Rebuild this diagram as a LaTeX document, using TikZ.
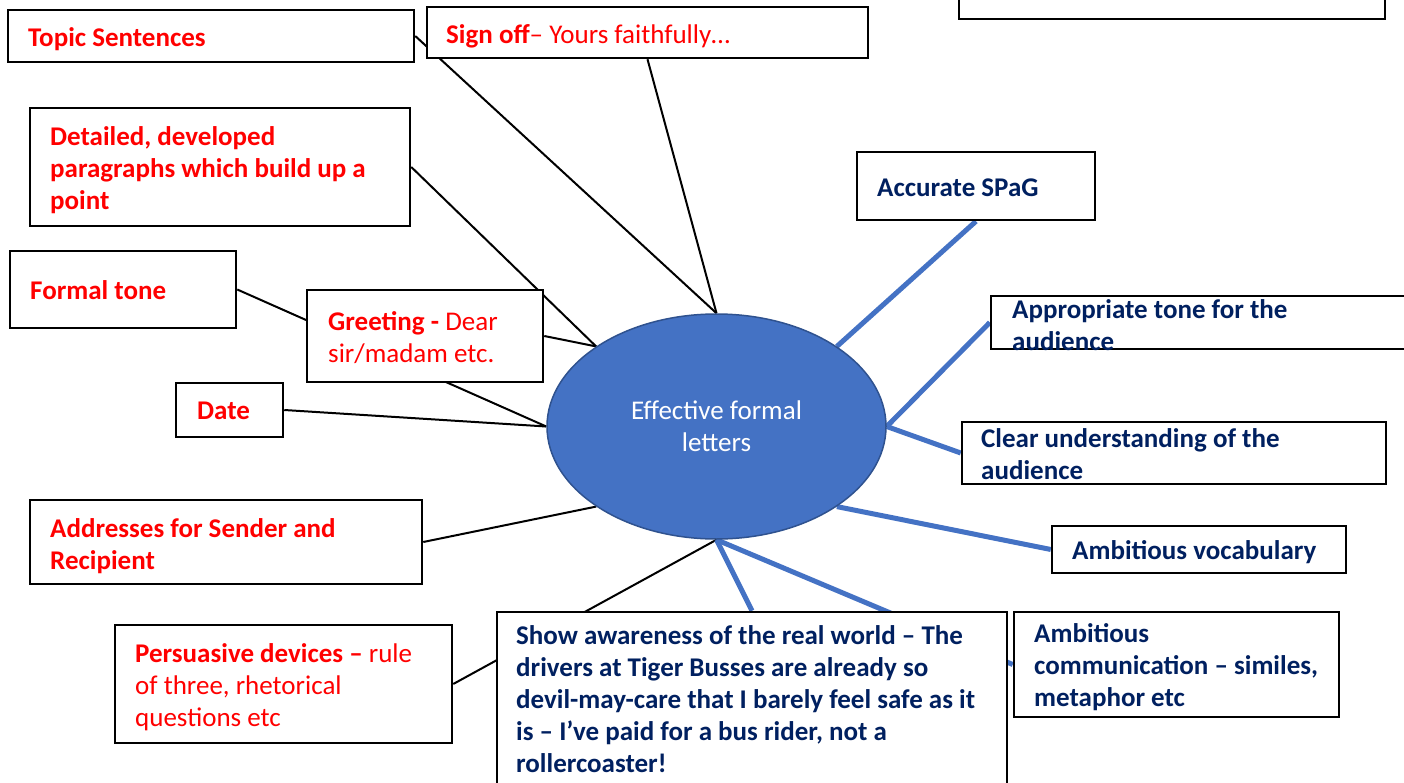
\documentclass[tikz,border=0pt]{standalone}
\usepackage{fontspec}
\setmainfont{Carlito}
\usetikzlibrary{shapes.geometric,backgrounds}
\definecolor{labred}{HTML}{FF0000}
\definecolor{navy}{HTML}{002060}
\definecolor{hubblue}{HTML}{4472C4}
\definecolor{hubedge}{HTML}{2F528F}
\newcommand\firstline{\rule{0pt}{24pt}}
\begin{document}
\begin{tikzpicture}[x=1pt,y=-1pt,
  box/.style={draw=black, fill=white, line width=2.5pt, rectangle, inner sep=0pt},
  hub/.style={ellipse, fill=hubblue, draw=hubedge, line width=1.5pt, inner sep=0pt,
    text=white, align=center, font=\fontsize{27}{32}\selectfont},
  txt/.style={anchor=north west, inner sep=0pt, align=left,
    font=\fontsize{27}{32}\selectfont, execute at begin node=\firstline},
  redtxt/.style={txt, text=labred},
  navytxt/.style={txt, text=navy, font=\fontsize{27}{32}\selectfont\bfseries},
  thinlink/.style={draw=black, line width=2pt},
  bluelink/.style={draw=hubblue, line width=5pt},
]
\useasboundingbox (0,0) rectangle (1404,783);

% central topic
\node[hub, minimum width=339pt, minimum height=225pt] (hub) at (716.5,426.5)
  {Effective formal\\letters};

% boxes
\node[box, minimum width=406pt, minimum height=52pt]  (topic)    at (211,36) {};
\node[box, minimum width=441pt, minimum height=51pt]  (signoff)  at (647.5,32.5) {};
\node[box, minimum width=426pt, minimum height=59pt]  (notes)    at (1172,-10.5) {};
\node[box, minimum width=380pt, minimum height=118pt] (detailed) at (220,167) {};
\node[box, minimum width=226pt, minimum height=77pt]  (formal)   at (123,289.5) {};
\node[box, minimum width=236pt, minimum height=92pt]  (greeting) at (425,336) {};
\node[box, minimum width=107pt, minimum height=54pt]  (date)     at (229.5,410) {};
\node[box, minimum width=392pt, minimum height=84pt]  (address)  at (226,542) {};
\node[box, minimum width=337pt, minimum height=118pt] (persuade) at (283.5,684) {};
\node[box, minimum width=510pt, minimum height=188pt] (aware)    at (752,706) {};
\node[box, minimum width=325pt, minimum height=105pt] (comm)     at (1176.5,664.5) {};
\node[box, minimum width=294pt, minimum height=47pt]  (vocab)    at (1199,549.5) {};
\node[box, minimum width=424pt, minimum height=62pt]  (clear)    at (1174,453) {};
\node[box, minimum width=439pt, minimum height=53pt]  (tone)     at (1210.5,322.5) {};
\node[box, minimum width=238pt, minimum height=68pt]  (spag)     at (976,186) {};

% box texts
\node[redtxt] (topic-t) at (28,22) {\textbf{Topic Sentences}};
\node[redtxt] (signoff-t) at (446,19) {\textbf{Sign off}– Yours faithfully…};
\node[redtxt] (detailed-t) at (50,126)
  {\textbf{Detailed, developed}\\\textbf{paragraphs which build up a}\\\textbf{point}};
\node[redtxt] (formal-t) at (30,275) {\textbf{Formal tone}};
\node[redtxt] (greeting-t) at (328,311) {\textbf{Greeting -} Dear\\sir/madam etc.};
\node[redtxt] (date-t) at (197,395) {\textbf{Date}};
\node[redtxt] (address-t) at (50,518)
  {\textbf{Addresses for Sender and}\\\textbf{Recipient}};
\node[redtxt] (persuade-t) at (135,643)
  {\textbf{Persuasive devices –} rule\\of three, rhetorical\\questions etc};
\node[navytxt] (aware-t) at (516,625)
  {Show awareness of the real world – The\\drivers at Tiger Busses are already so\\devil-may-care that I barely feel safe as it\\is – I’ve paid for a bus rider, not a\\rollercoaster!};
\node[navytxt] (comm-t) at (1034,623)
  {Ambitious\\communication – similes,\\metaphor etc};
\node[navytxt] (vocab-t) at (1072,535) {Ambitious vocabulary};
\node[navytxt] (clear-t) at (981,428) {Clear understanding of the\\audience};
\node[navytxt] (tone-t) at (1012,299) {Appropriate tone for the\\audience};
\node[navytxt] (spag-t) at (877,172) {Accurate SPaG};

% connectors, kept behind the boxes
\begin{pgfonlayer}{background}
  \draw[thinlink] (topic.east)    -- (hub.north);
  \draw[thinlink] (signoff.south) -- (hub.north);
  \draw[thinlink] (detailed.east) -- (hub.north west);
  \draw[thinlink] (greeting.east) -- (hub.north west);
  \draw[thinlink] (formal.east)   -- (hub.west);
  \draw[thinlink] (date.east)     -- (hub.west);
  \draw[thinlink] (address.east)  -- (hub.south west);
  \draw[thinlink] (persuade.east) -- (hub.south);
  \draw[bluelink] (spag.south)    -- (hub.north east);
  \draw[bluelink] (tone.west)     -- (hub.east);
  \draw[bluelink] (clear.west)    -- (hub.east);
  \draw[bluelink] (vocab.west)    -- (hub.south east);
  \draw[bluelink] (aware.north)   -- (hub.south);
  \draw[bluelink] (comm.west)     -- (hub.south);
\end{pgfonlayer}
\end{tikzpicture}
\end{document}
